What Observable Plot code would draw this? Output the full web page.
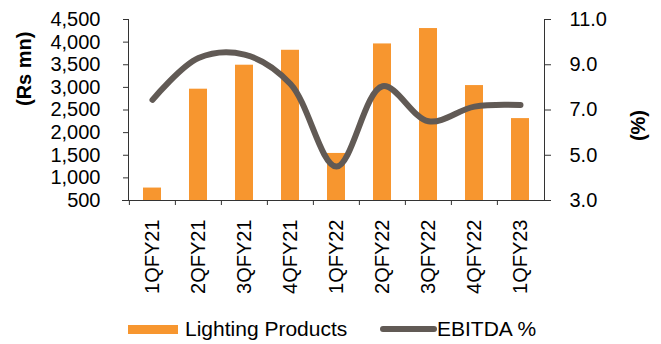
<!DOCTYPE html>
<html>
<head>
<meta charset="utf-8">
<script src="https://cdn.jsdelivr.net/npm/d3@7"></script>
<script src="https://cdn.jsdelivr.net/npm/@observablehq/plot@0.6"></script>
<style>
  html, body { margin: 0; padding: 0; background: #fff; }
  #wrap { position: relative; width: 661px; height: 344px; font-family: "Liberation Sans", Arial, sans-serif; }
  #chart { position: absolute; left: 0; top: 0; }
  .lg { position: absolute; font-size: 21px; color: #000; line-height: 1; white-space: nowrap; }
</style>
</head>
<body>
<div id="wrap">
  <div id="chart"></div>
  <div style="position:absolute;left:128px;top:325px;width:50px;height:9px;background:#F7962F"></div>
  <div class="lg" style="left:185px;top:318px">Lighting Products</div>
  <div style="position:absolute;left:380px;top:326px;width:57px;height:6px;border-radius:3px;background:#615A55"></div>
  <div class="lg" style="left:437px;top:318px">EBITDA %</div>
</div>
<script>
const quarters = ["1QFY21","2QFY21","3QFY21","4QFY21","1QFY22","2QFY22","3QFY22","4QFY22","1QFY23"];
const lighting = [775, 2960, 3490, 3820, 1540, 3960, 4300, 3040, 2310];
const ebitda = [7.45, 9.3, 9.45, 8.15, 4.5, 8.05, 6.5, 7.15, 7.22];
const leftTicks = [500, 1000, 1500, 2000, 2500, 3000, 3500, 4000, 4500];
const rightTicks = [3, 5, 7, 9, 11];

const leftDomain = [500, 4500];
const rightDomain = [3, 11];
const toLeft = v => leftDomain[0] + (v - rightDomain[0]) / (rightDomain[1] - rightDomain[0]) * (leftDomain[1] - leftDomain[0]);
const fromLeft = d => rightDomain[0] + (d - leftDomain[0]) / (leftDomain[1] - leftDomain[0]) * (rightDomain[1] - rightDomain[0]);

const data = quarters.map((q, i) => ({q, lighting: lighting[i], ebitda: ebitda[i]}));

const W = 661, H = 310, mL = 128, mR = 117, mT = 19, mB = 110;
const step = (W - mL - mR) / quarters.length;
const axisColor = "#333333";

const chart = Plot.plot({
  width: W, height: H,
  marginLeft: mL, marginRight: mR, marginTop: mT, marginBottom: mB,
  style: {fontFamily: "'Liberation Sans', Arial, sans-serif", fontSize: "20px", color: "#000", background: "#fff"},
  x: {domain: quarters, paddingInner: 0.6, paddingOuter: 0.3, axis: null},
  y: {domain: leftDomain, axis: null},
  marks: [
    Plot.barY(data, {x: "q", y1: leftDomain[0], y2: "lighting", fill: "#F7962F"}),
    Plot.line(data, {x: "q", y: d => toLeft(d.ebitda), curve: "catmull-rom", stroke: "#615A55", strokeWidth: 6, strokeLinecap: "round", strokeLinejoin: "round"}),
    Plot.frame({anchor: "left", stroke: axisColor}),
    Plot.frame({anchor: "right", stroke: axisColor}),
    Plot.ruleY([leftDomain[0]], {stroke: axisColor, insetLeft: -6}),
    Plot.axisY({ticks: leftTicks, tickFormat: d3.format(","), tickSize: 5, tickPadding: 23, stroke: axisColor, label: null}),
    Plot.axisY({anchor: "right", ticks: rightTicks.map(toLeft), tickFormat: d => fromLeft(d).toFixed(1), tickSize: 6, tickPadding: 19, stroke: axisColor, label: null}),
    Plot.axisX({ticks: quarters, tickSize: 5, tickFormat: () => "", dx: -step / 2, stroke: axisColor, label: null}),
    Plot.axisX({ticks: quarters, tickSize: 0, tickPadding: 19, tickRotate: -90, label: null}),
    Plot.text(["(Rs mn)"], {frameAnchor: "left", dx: -104, dy: -4, rotate: -90, fontWeight: "bold", fontSize: 20, fill: "#000"}),
    Plot.text(["(%)"], {frameAnchor: "right", dx: 94, rotate: -90, fontWeight: "bold", fontSize: 20, fill: "#000"})
  ]
});
document.getElementById("chart").appendChild(chart);
</script>
</body>
</html>
